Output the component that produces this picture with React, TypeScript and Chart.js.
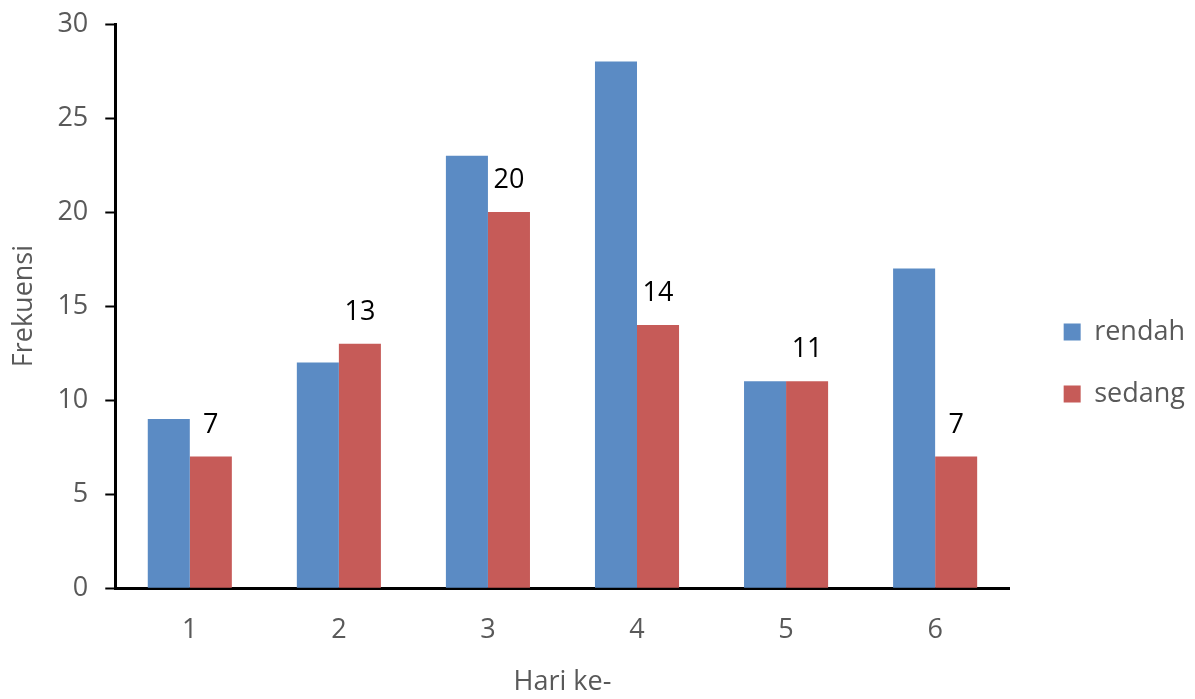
import React, { useEffect, useRef } from "react";
import { Chart, registerables } from "chart.js";

Chart.register(...registerables);

const categories = ["1", "2", "3", "4", "5", "6"];
const rendah = [9, 12, 23, 28, 11, 17];
const sedang = [7, 13, 20, 14, 11, 7];

const FONT = "'Open Sans', 'Noto Sans', sans-serif";
const GREY = "#595959";
const SIZE = 27;

// Value labels above the "sedang" bars
const sedangLabels = {
  id: "sedangLabels",
  afterDatasetsDraw(chart: any) {
    const ctx = chart.ctx;
    const meta = chart.getDatasetMeta(1);
    ctx.save();
    ctx.font = `${SIZE}px ${FONT}`;
    ctx.fillStyle = "#000000";
    ctx.textAlign = "center";
    ctx.textBaseline = "alphabetic";
    meta.data.forEach((bar: any, i: number) => {
      ctx.fillText(String(sedang[i]), bar.x, bar.y - 24);
    });
    ctx.restore();
  },
};

// Leave a gap between the plot and the legend on the right
const LEGEND_GAP = 19;
const legendGap = {
  id: "legendGap",
  beforeInit(chart: any) {
    const legend = chart.legend;
    if (!legend) return;
    const fit = legend.fit;
    legend.fit = function () {
      fit.call(this);
      this.width += LEGEND_GAP;
    };
  },
  afterLayout(chart: any) {
    if (chart.legend) {
      chart.legend.left += LEGEND_GAP;
      chart.legend.top += 3;
    }
  },
};

export default function App() {
  const canvasRef = useRef<HTMLCanvasElement | null>(null);

  useEffect(() => {
    if (!canvasRef.current) return;
    const chart = new Chart(canvasRef.current, {
      type: "bar",
      data: {
        labels: categories,
        datasets: [
          {
            label: "rendah",
            data: rendah,
            backgroundColor: "#5B8BC4",
            categoryPercentage: 0.564,
            barPercentage: 1,
          },
          {
            label: "sedang",
            data: sedang,
            backgroundColor: "#C65B58",
            categoryPercentage: 0.564,
            barPercentage: 1,
          },
        ],
      },
      options: {
        animation: false,
        responsive: true,
        maintainAspectRatio: false,
        layout: { padding: { top: 24, left: 8, right: 0, bottom: 0 } },
        plugins: {
          tooltip: { enabled: false },
          legend: {
            position: "right",
            labels: {
              boxWidth: 17,
              boxHeight: 17,
              padding: 35,
              color: GREY,
              font: { family: FONT, size: SIZE },
            },
          },
        },
        scales: {
          x: {
            grid: { display: false, drawTicks: false },
            border: { display: true, color: "#000000", width: 3 },
            ticks: {
              color: GREY,
              padding: 26,
              font: { family: FONT, size: SIZE },
            },
            title: {
              display: true,
              text: "Hari ke-",
              color: GREY,
              font: { family: FONT, size: SIZE },
              padding: { top: -6, bottom: 0 },
            },
          },
          y: {
            min: 0,
            max: 30,
            afterFit(scale: any) {
              scale.paddingTop = 0;
            },
            grid: {
              display: true,
              drawOnChartArea: false,
              drawTicks: true,
              tickLength: 10,
              tickWidth: 2,
              tickColor: "#000000",
            },
            border: { display: true, color: "#000000", width: 3 },
            ticks: {
              stepSize: 5,
              color: GREY,
              padding: 17,
              font: { family: FONT, size: SIZE },
            },
            title: {
              display: true,
              text: "Frekuensi",
              color: GREY,
              font: { family: FONT, size: SIZE },
              padding: { top: 0, bottom: 0 },
            },
          },
        },
      },
      plugins: [sedangLabels, legendGap],
    });
    return () => chart.destroy();
  }, []);

  return (
    <div style={{ position: "fixed", left: 0, top: 0, width: 1195, height: 699, background: "#ffffff" }}>
      <canvas ref={canvasRef} />
    </div>
  );
}
